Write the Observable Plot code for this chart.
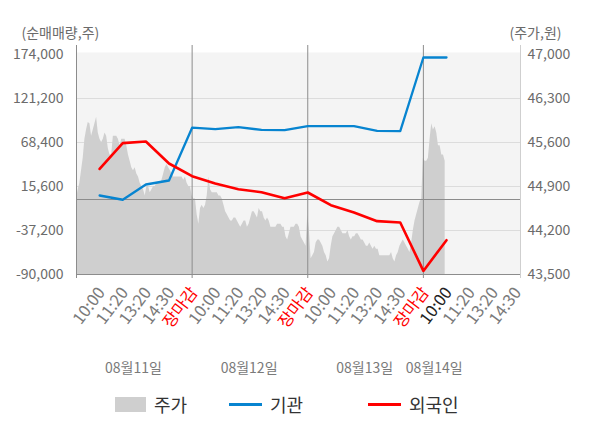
<!DOCTYPE html>
<html>
<head>
<meta charset="utf-8">
<script src="https://cdn.jsdelivr.net/npm/d3@7"></script>
<script src="https://cdn.jsdelivr.net/npm/@observablehq/plot@0.6"></script>
<style>
  body { margin: 0; background: #fff; font-family: "Noto Sans CJK KR", "Noto Sans", sans-serif; }
  #chart { position: relative; width: 600px; height: 428px; overflow: hidden; }
  #chart svg { position: absolute; left: 0; top: 0; }
  #legend { position: absolute; left: 0; top: 391px; width: 600px; height: 26px; font-size: 18px; color: #333; }
  #legend .it { position: absolute; top: 0; height: 26px; display: flex; align-items: center; gap: 8px; }
  #legend .box { display: inline-block; width: 31px; height: 15px; }
  #legend .ln { display: inline-block; width: 33px; height: 3px; }
</style>
</head>
<body>
<div id="chart"></div>
<script>
// ---- data ----
const seriesNames = ["주가", "기관", "외국인"];
const dateLabels = ["08월11일", "08월12일", "08월13일", "08월14일"];
const timeLabels = ["10:00","11:20","13:20","14:30","장마감",
                    "10:00","11:20","13:20","14:30","장마감",
                    "10:00","11:20","13:20","14:30","장마감",
                    "10:00","11:20","13:20","14:30"];
const leftTicks = [-90000, -37200, 15600, 68400, 121200, 174000];
const rightTicks = [43500, 44200, 44900, 45600, 46300, 47000];

// net buying (shares) at each time label, 기관 / 외국인
const instNet    = [4800, -300, 18000, 22800, 86200, 84400, 86800, 83500, 83200, 88000, 88000, 88000, 82300, 82000, 170400, 170400];
const foreignNet = [36700, 67600, 69600, 43200, 28000, 19200, 12400, 8800, 1500, 8400, -6800, -15600, -26000, -27600, -85700, -48800];

// intraday price (원), evenly sampled through each session
const price11 = [44700,44850,44950,45150,45350,45650,45800,45920,45900,45700,45800,45900,46000,45750,45650,45600,45650,45750,45700,45500,
                 45400,45400,45700,45700,45700,45650,45550,45650,45650,45650,45550,45400,45300,45200,45150,45200,45100,45050,44950,44900,
                 44850,44750,44900,44900,44800,44850,44900,44900,44950,44950,44950,45000,45100,45200,45250,45200,45150,45100,45050,45050,
                 45050,45050,45050,45050,45000,45050,44950,44900,44900];
const price12 = [44750,44700,44700,44450,44300,44550,44600,44550,44600,44750,45050,44850,44800,44800,44800,44800,44750,44750,44700,44600,
                 44500,44450,44400,44350,44350,44400,44400,44350,44300,44250,44300,44350,44350,44250,44300,44400,44500,44500,44450,44400,
                 44550,44500,44500,44400,44350,44400,44350,44250,44250,44250,44250,44300,44300,44300,44250,44250,44100,44050,44150,44250,
                 44250,44250,44300,44300,44250,44100,44050,44000,43950];
const price13 = [44450,44200,43750,43800,43850,44000,44050,44050,44000,43950,43850,43800,43700,43750,43950,44100,44150,44200,44250,44250,
                 44200,44150,44150,44150,44200,44100,44050,44100,44100,44150,44150,44100,44050,44050,44000,43950,43950,44000,43950,43900,
                 43950,43900,43900,43800,43800,43800,43800,43800,43800,43800,43850,43750,43700,43800,43850,43950,44000,44050,44000,43950,
                 43900,43850,44000,44200,44350,44450,44550,44650,44700];
const price14 = [45350,45300,45300,45350,45650,45900,45800,45850,45750,45550,45550,45400,45400,45300];

// ---- derived ----
const yMin = leftTicks[0], yMax = leftTicks[leftTicks.length - 1];
const pMin = rightTicks[0], pMax = rightTicks[rightTicks.length - 1];
const toLeft = p => yMin + (p - pMin) * (yMax - yMin) / (pMax - pMin);
const toPrice = v => pMin + (v - yMin) * (pMax - pMin) / (yMax - yMin);
const fmt = v => Math.round(v).toLocaleString("en-US");

const perDay = 5;                 // label slots per session
const samplesPerDay = price11.length;
const priceDays = [price11, price12, price13, price14];
const priceRows = priceDays.flatMap((arr, d) =>
  arr.map((p, i) => ({t: d * perDay + i * perDay / samplesPerDay, v: toLeft(p)})));
const instRows = instNet.map((v, i) => ({t: i + 1, v}));
const foreignRows = foreignNet.map((v, i) => ({t: i + 1, v}));
const nowSlot = instNet.length;
const slotRows = timeLabels.map((label, i) => ({t: i + 1, label,
  kind: label === "장마감" ? "close" : (i + 1 === nowSlot ? "now" : "normal")}));
const dateRows = dateLabels.map((label, d) => ({
  t: d * perDay + (priceDays[d].length - 1) * perDay / samplesPerDay / 2, label}));
const daySeps = [1, 2, 3].map(d => d * perDay);
const xMax = timeLabels.length + 0.2;

const H = 385, plotBottom = 274;
const font = '"Noto Sans CJK KR", "Noto Sans", sans-serif';

const xLabel = (kind, fill) => Plot.text(slotRows.filter(d => d.kind === kind), {
  x: "t", text: "label", frameAnchor: "bottom", rotate: -53, textAnchor: "end", lineAnchor: "middle",
  dy: 15, dx: 2, fontSize: 16.5, fill
});

const chart = Plot.plot({
  width: 600, height: H,
  marginTop: 54, marginLeft: 76, marginRight: 80, marginBottom: H - plotBottom,
  x: {domain: [0, xMax], axis: null},
  y: {domain: [yMin, yMax], axis: null},
  style: {fontFamily: font, fontSize: "14px", color: "#6b6b6b", background: "transparent", overflow: "visible"},
  marks: [
    Plot.frame({fill: "#f4f4f4", stroke: null, insetTop: -2}),
    Plot.ruleY(leftTicks.slice(1, -1), {stroke: "#dcdcdc"}),
    Plot.areaY(priceRows, {x: "t", y1: yMin, y2: "v", fill: "#cfcfcf"}),
    Plot.ruleY([0], {stroke: "#8c8c8c"}),
    Plot.ruleY([yMin], {stroke: "#8c8c8c"}),
    Plot.ruleX(daySeps, {stroke: "#8c8c8c", insetTop: -9, insetBottom: -4}),
    Plot.ruleX([0], {stroke: "#8c8c8c", insetTop: -9, insetBottom: -4}),
    Plot.ruleX([xMax], {stroke: "#cfcfcf", insetTop: -9, insetBottom: -4}),
    Plot.line(instRows, {x: "t", y: "v", stroke: "#0784d0", strokeWidth: 2.3}),
    Plot.line(foreignRows, {x: "t", y: "v", stroke: "#ff0000", strokeWidth: 2.6}),
    Plot.axisY(leftTicks, {anchor: "left", tickSize: 0, tickPadding: 13, label: null,
      tickFormat: fmt, fontSize: 14}),
    Plot.axisY(leftTicks, {anchor: "right", tickSize: 0, tickPadding: 7, label: null,
      tickFormat: v => fmt(Math.round(toPrice(v) / 100) * 100), fontSize: 14}),
    xLabel("normal", "#7a7a7a"),
    xLabel("close", "#ff0000"),
    xLabel("now", "#222222"),
    Plot.text(dateRows, {x: "t", text: "label", frameAnchor: "bottom", lineAnchor: "middle", dy: 94, fontSize: 14, fill: "#7a7a7a"}),
    Plot.text(["(순매매량,주)"], {text: d => d, frameAnchor: "top-left", textAnchor: "start", lineAnchor: "middle", dx: -55, dy: -21, fontSize: 14, fill: "#6b6b6b"}),
    Plot.text(["(주가,원)"], {text: d => d, frameAnchor: "top-right", textAnchor: "start", lineAnchor: "middle", dx: -11, dy: -21, fontSize: 14, fill: "#6b6b6b"})
  ]
});

const root = document.getElementById("chart");
root.appendChild(chart);

const legend = document.createElement("div");
legend.id = "legend";
const swatches = [
  {cls: "box", color: "#cfcfcf", left: 115},
  {cls: "ln", color: "#0784d0", left: 229},
  {cls: "ln", color: "#ff0000", left: 368}
];
seriesNames.forEach((name, i) => {
  const it = document.createElement("div");
  it.className = "it";
  it.style.left = swatches[i].left + "px";
  const sw = document.createElement("span");
  sw.className = swatches[i].cls;
  sw.style.background = swatches[i].color;
  const tx = document.createElement("span");
  tx.textContent = name;
  it.appendChild(sw);
  it.appendChild(tx);
  legend.appendChild(it);
});
root.appendChild(legend);
</script>
</body>
</html>
